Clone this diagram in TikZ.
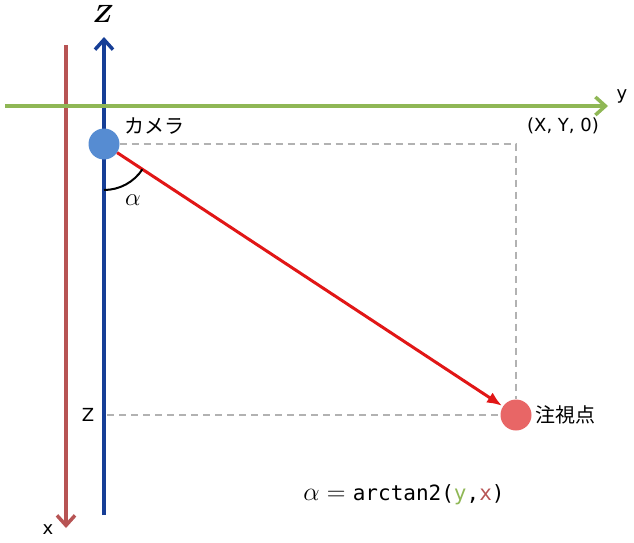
\documentclass[tikz,border=0pt]{standalone}
\usepackage{amsmath, amssymb, fontspec}
\usetikzlibrary{positioning, arrows.meta}
\setmainfont{DejaVu Sans}
\setmonofont{DejaVu Sans Mono}
\newfontfamily\jpfont{Noto Sans CJK JP}

\definecolor{xaxis}{RGB}{183,84,84}
\definecolor{zaxis}{RGB}{22,62,150}
\definecolor{yaxis}{RGB}{143,183,85}
\definecolor{camcol}{RGB}{86,140,210}
\definecolor{tgtcol}{RGB}{232,102,102}
\definecolor{raycol}{RGB}{225,22,22}

\begin{document}
\begin{tikzpicture}[x=1pt, y=-1pt,
    axis/.style={line width=4.2pt, -{Straight Barb[length=10pt, width=18pt, line width=3.5pt]}},
    pt/.style={circle, inner sep=0pt, minimum size=31pt},
    lbl/.style={font=\fontsize{18}{20}\selectfont, inner sep=1pt},
    jlbl/.style={font=\fontsize{20}{22}\selectfont\jpfont, inner sep=1pt},
    guide/.style={gray!60, line width=1.3pt, dash pattern=on 7pt off 5pt}]
    \useasboundingbox (0,0) rectangle (634,543);

    % axes
    \coordinate (xs) at (66,45);
    \coordinate (xe) at (66,528);
    \coordinate (zs) at (104,515);
    \coordinate (ze) at (104,37);
    \coordinate (ys) at (5,106);
    \coordinate (ye) at (608,106);
    \draw[axis, xaxis] (xs) -- (xe);
    \draw[axis, zaxis] (zs) -- (ze);
    \draw[axis, yaxis] (ys) -- (ye);

    \node[lbl] (xl) at (48,530) {x};
    \node[lbl] (yl) at (622,96) {y};
    \node (zl) at (103,14) {\fontsize{27}{29}\selectfont$\boldsymbol{Z}$};

    % camera and target
    \node[pt, fill=camcol] (cam) at (104,144) {};
    \node[pt, fill=tgtcol] (tgt) at (516,415) {};
    \coordinate (corner) at (516,144);
    \coordinate (zmark) at (107,415);

    \draw[guide] (cam) -- (corner) -- (tgt);
    \draw[guide] (zmark) -- (tgt);

    \draw[raycol, line width=3pt, -{Latex[length=15pt, width=12pt]}, shorten >=1pt] (cam) -- (tgt);

    \node[jlbl] (camlbl) at (154,126) {カメラ};
    \node[lbl] (xyz) at (563,126) {(X, Y, 0)};
    \node[jlbl, right=3pt of tgt] (tgtlbl) {注視点};
    \node[lbl] (zval) at (88,415) {Z};

    % angle
    \draw[line width=2pt] (cam.center) ++(33.3:46) arc[start angle=33.3, end angle=90, radius=46];
    \node (alpha) at (133,200) {\fontsize{23}{25}\selectfont$\alpha$};

    \node (formula) at (404,495) {\fontsize{21}{24}\selectfont\scalebox{1.25}{$\alpha = {}$}\texttt{arctan2(\textcolor{yaxis}{y},\textcolor{xaxis}{x})}};
\end{tikzpicture}
\end{document}
